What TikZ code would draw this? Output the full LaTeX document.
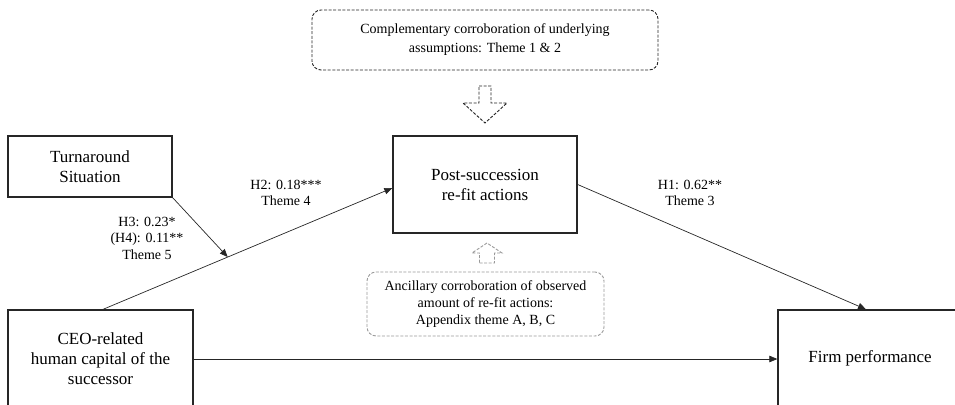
\documentclass[tikz,border=0pt]{standalone}
\usepackage{fontspec}
\setmainfont{Liberation Serif}
\usetikzlibrary{arrows.meta,calc}
\begin{document}
\begin{tikzpicture}[x=1pt,y=-1pt,
  box/.style={draw=black!85, line width=1.3pt, inner sep=0pt, align=center,
    font=\fontsize{17}{20}\selectfont},
  note/.style={draw=black!85, line width=0.9pt, dash pattern=on 3pt off 1.6pt,
    rounded corners=9pt, inner sep=0pt, align=center, font=\fontsize{14}{19}\selectfont},
  graynote/.style={draw=black!40, line width=0.9pt, dash pattern=on 3pt off 1.6pt,
    rounded corners=9pt, inner sep=0pt, align=center, font=\fontsize{14}{17}\selectfont},
  lab/.style={align=center, inner sep=0pt, font=\fontsize{14}{16.5}\selectfont},
  arr/.style={-{Triangle[length=8pt,width=6.5pt]}, line width=0.7pt, draw=black!85},
  fatarrow/.style={line width=0.9pt, dash pattern=on 3pt off 1.6pt, line join=miter}
]
\useasboundingbox (0,0) rectangle (955,404);
\clip (0,0) rectangle (955,404);

% boxes
\node[box, minimum width=164pt, minimum height=61pt] (turn) at (90,166.5) {Turnaround\\Situation};
\node[box, minimum width=184pt, minimum height=97pt] (post) at (485,184.5) {Post-succession\\re-fit actions};
\node[box, minimum width=185pt, minimum height=98pt] (ceo) at (100.5,359) {CEO-related\\human capital of the\\successor};
\node[box, minimum width=184pt, minimum height=96pt] (firm) at (870,358) {Firm performance};

% notes
\node[note, minimum width=346pt, minimum height=60pt] (comp) at (485,40)
  {Complementary corroboration of underlying\\assumptions: Theme 1 \& 2};
\node[graynote, minimum width=237pt, minimum height=64pt] (anc) at (485.5,304)
  {Ancillary corroboration of observed\\amount of re-fit actions:\\Appendix theme A, B, C};

% block arrows
\draw[fatarrow, draw=black!85] (479,86) -- (491,86) -- (491,103) -- (507,103) -- (485,123)
  -- (463,103) -- (479,103) -- cycle;
\draw[fatarrow, draw=black!40] (479.5,263) -- (494.5,263) -- (494.5,253) -- (502,253) -- (487,243)
  -- (472,253) -- (479.5,253) -- cycle;

% connectors
\draw[arr] ([xshift=2.5pt]ceo.north) -- coordinate[pos=0.431] (mod) ([yshift=-3.5pt]post.west);
\draw[arr] (turn.south east) -- (mod);
\draw[arr] (post.east) -- ([xshift=-4pt]firm.north);
\draw[arr] (ceo.east) -- (ceo.east -| firm.west);

% labels
\node[lab] (h2) at (286,193) {H2: 0.18***\\Theme 4};
\node[lab] (h3) at (147,238) {H3: 0.23*\\(H4): 0.11**\\Theme 5};
\node[lab] (h1) at (690,193) {H1: 0.62**\\Theme 3};
\end{tikzpicture}
\end{document}
